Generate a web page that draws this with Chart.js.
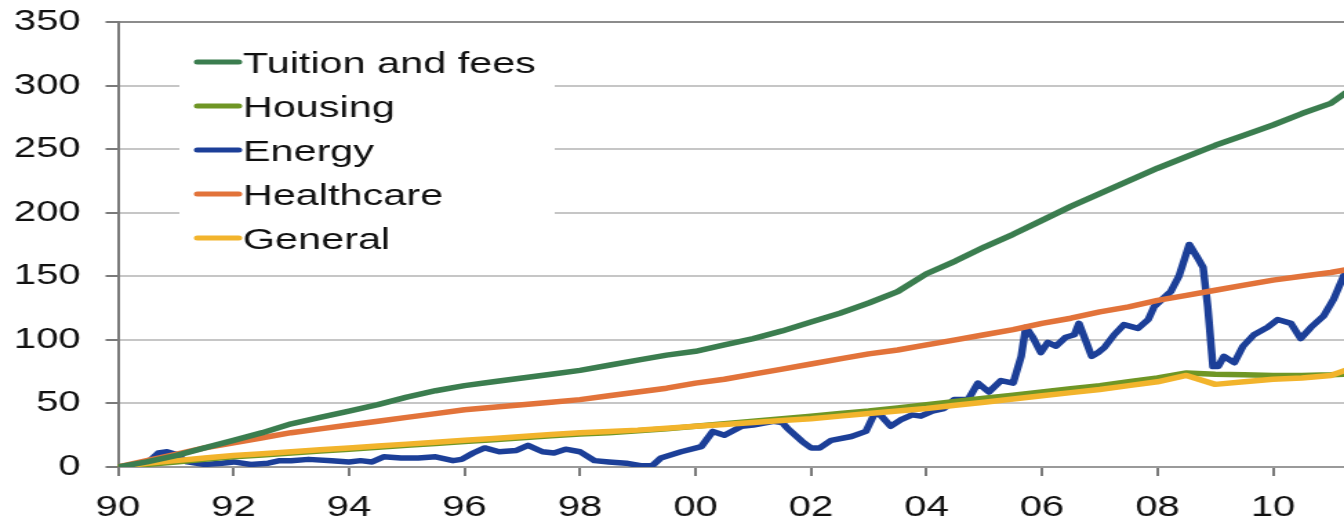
<!DOCTYPE html>
<html>
<head>
<meta charset="utf-8">
<script src="https://cdn.jsdelivr.net/npm/chart.js@4/dist/chart.umd.min.js"></script>
<style>
  html, body { margin: 0; padding: 0; background: #fff; overflow: hidden; }
  /* the source picture is stretched sideways, so the chart is drawn narrow and widened */
  #wrap { width: 974px; height: 518px; transform: scaleX(1.3799); transform-origin: 0 0; }
</style>
</head>
<body>
<div id="wrap"><canvas id="chart" width="974" height="518"></canvas></div>
<script>
// datos (indice, 1990 = 0)
const years = [1990, 1990.5, 1991, 1991.5, 1992, 1992.5, 1993, 1993.5, 1994, 1994.5,
  1995, 1995.5, 1996, 1996.5, 1997, 1997.5, 1998, 1998.5, 1999, 1999.5,
  2000, 2000.5, 2001, 2001.5, 2002, 2002.5, 2003, 2003.5, 2004, 2004.5,
  2005, 2005.5, 2006, 2006.5, 2007, 2007.5, 2008, 2008.5, 2009, 2009.5,
  2010, 2010.5, 2011, 2011.25];

const tuition = [0, 4, 9, 15, 21, 27, 34, 39, 44, 49,
  55, 60, 64, 67, 70, 73, 76, 80, 84, 88,
  91, 96, 101, 107, 114, 121, 129, 138, 152, 162,
  173, 183, 194, 205, 215, 225, 235, 244, 253, 261,
  269, 278, 286, 294];

const housing = [0, 2, 4, 6, 8, 9.5, 11, 12.5, 14, 15.5,
  17, 18.5, 20, 21.5, 23, 24.5, 26, 27, 28.5, 30,
  32, 34, 36, 38, 40, 42, 44, 46.5, 49, 51.5,
  54, 56.5, 59, 61.5, 64, 67, 70, 74, 73, 72.5,
  72, 72, 72.5, 73];

const healthcare = [0, 5, 10, 15, 19, 23, 27, 30, 33, 36,
  39, 42, 45, 47, 49, 51, 53, 56, 59, 62,
  66, 69, 73, 77, 81, 85, 89, 92, 96, 100,
  104, 108, 113, 117, 122, 126, 131, 135, 139, 143,
  147, 150, 153, 155];

const general = [0, 3, 5, 7, 9, 10.5, 12, 13.5, 15, 16.5,
  18, 19.5, 21, 22.5, 24, 25.5, 27, 28, 29, 30.5,
  32, 33.5, 35, 36.5, 38, 40, 42, 44, 46, 48.5,
  51, 53.5, 56, 58.5, 61, 64, 67, 72, 65, 67,
  69, 70, 72, 76];

// energia tiene mas detalle, con sus propias fechas
const energyYears = [1990, 1990.3, 1990.55, 1990.7, 1990.85, 1991, 1991.2, 1991.5, 1991.8, 1992,
  1992.3, 1992.6, 1992.8, 1993, 1993.3, 1993.7, 1994, 1994.2, 1994.4, 1994.6,
  1994.9, 1995.2, 1995.5, 1995.8, 1995.95, 1996.15, 1996.35, 1996.6, 1996.9, 1997.1,
  1997.35, 1997.55, 1997.75, 1998, 1998.25, 1998.5, 1998.8, 1999.05, 1999.25, 1999.4,
  1999.75, 2000.1, 2000.3, 2000.5, 2000.8, 2001, 2001.35, 2001.5, 2001.6, 2001.85,
  2002, 2002.15, 2002.35, 2002.7, 2002.95, 2003.1, 2003.2, 2003.38, 2003.55, 2003.75,
  2003.9, 2004.1, 2004.3, 2004.48, 2004.72, 2004.89, 2005.08, 2005.29, 2005.5, 2005.64,
  2005.72, 2005.84, 2005.98, 2006.1, 2006.24, 2006.41, 2006.56, 2006.64, 2006.75, 2006.86,
  2006.97, 2007.08, 2007.25, 2007.42, 2007.66, 2007.84, 2007.94, 2008.23, 2008.37, 2008.55,
  2008.7, 2008.79, 2008.87, 2008.96, 2009.05, 2009.15, 2009.33, 2009.48, 2009.67, 2009.91,
  2010.08, 2010.31, 2010.48, 2010.66, 2010.88, 2011.05, 2011.23];

const energy = [0, 1, 5, 11, 12, 10, 4, 2, 3, 4,
  2, 3, 5, 5, 6, 5, 4, 5, 4, 8,
  7, 7, 8, 5, 6, 11, 15, 12, 13, 17,
  12, 11, 14, 12, 5, 4, 3, 1, 1, 7,
  12, 16, 28, 25, 32, 33, 36, 35, 30, 20,
  15, 15, 21, 24, 28, 42, 41, 32, 37, 41,
  40, 44, 46, 53, 53, 66, 59, 68, 66, 87,
  110, 102, 90, 98, 95, 102, 104, 113, 100, 87,
  90, 94, 104, 112, 109, 116, 126, 138, 150, 175,
  164, 157, 126, 79, 79, 87, 82, 95, 104, 110,
  116, 113, 101, 110, 119, 132, 151];

const tickYears = [1990, 1992, 1994, 1996, 1998, 2000, 2002, 2004, 2006, 2008, 2010];
const tickLabels = ['90', '92', '94', '96', '98', '00', '02', '04', '06', '08', '10'];

const fontFamily = '"Liberation Sans", Arial, sans-serif';

function toPoints(xs, ys) {
  return xs.map((x, i) => ({ x: x, y: ys[i] }));
}

function serie(label, xs, ys, color, order) {
  return {
    label: label,
    data: toPoints(xs, ys),
    borderColor: color,
    backgroundColor: color,
    borderWidth: 5.5,
    pointRadius: 0,
    tension: 0,
    borderJoinStyle: 'round',
    borderCapStyle: 'round',
    order: order
  };
}

// leyenda dentro del area, con fondo blanco sobre las lineas de la rejilla
const legendInside = {
  id: 'legendInside',
  afterDraw(chart) {
    const ctx = chart.ctx;
    ctx.save();
    ctx.fillStyle = '#fff';
    ctx.fillRect(130, 40, 272, 222);
    ctx.font = '30px ' + fontFamily;
    ctx.textBaseline = 'alphabetic';
    ctx.textAlign = 'left';
    chart.data.datasets.forEach((ds, i) => {
      const y = 62 + i * 44;
      ctx.strokeStyle = ds.borderColor;
      ctx.lineWidth = 5;
      ctx.lineCap = 'round';
      ctx.beginPath();
      ctx.moveTo(143, y);
      ctx.lineTo(173, y);
      ctx.stroke();
      ctx.fillStyle = '#111';
      ctx.fillText(ds.label, 176, y + 10.7);
    });
    ctx.restore();
  }
};

const ctx = document.getElementById('chart').getContext('2d');
const chart = new Chart(ctx, {
  type: 'line',
  data: {
    datasets: [
      serie('Tuition and fees', years, tuition, '#3b7d4f', 0),
      serie('Housing', years, housing, '#6f9625', 3),
      serie('Energy', energyYears, energy, '#1c3f98', 4),
      serie('Healthcare', years, healthcare, '#e2733a', 1),
      serie('General', years, general, '#f2b42c', 2)
    ]
  },
  options: {
    responsive: false,
    animation: false,
    layout: { padding: { top: 22, left: 0, right: 0, bottom: 0 } },
    plugins: {
      legend: { display: false },
      tooltip: { enabled: false }
    },
    scales: {
      x: {
        type: 'linear',
        min: 1990,
        max: 2011.23,
        afterBuildTicks: (scale) => { scale.ticks = tickYears.map(v => ({ value: v })); },
        afterFit: (scale) => { scale.height = 51; },
        ticks: {
          autoSkip: false,
          maxRotation: 0,
          padding: 15,
          color: '#111',
          font: { family: fontFamily, size: 29 },
          callback: (v, i) => tickLabels[i]
        },
        grid: {
          drawOnChartArea: false,
          drawTicks: true,
          tickLength: 9,
          tickColor: '#7a7a7a',
          lineWidth: 2
        },
        border: { display: true, color: '#9a9a9a', width: 2 }
      },
      y: {
        min: 0,
        max: 350,
        afterFit: (scale) => {
          scale.width = 85.5;
          scale.paddingTop = 0;
          scale.paddingBottom = 0;
        },
        ticks: {
          stepSize: 50,
          padding: 18,
          color: '#111',
          font: { family: fontFamily, size: 29 }
        },
        grid: {
          color: (c) => c.tick && c.tick.value === 350 ? '#8c8c8c' : '#c6c6c6',
          tickColor: '#7a7a7a',
          tickLength: 9,
          lineWidth: 2
        },
        border: { display: true, color: '#7a7a7a', width: 2 }
      }
    }
  },
  plugins: [legendInside]
});
</script>
</body>
</html>
